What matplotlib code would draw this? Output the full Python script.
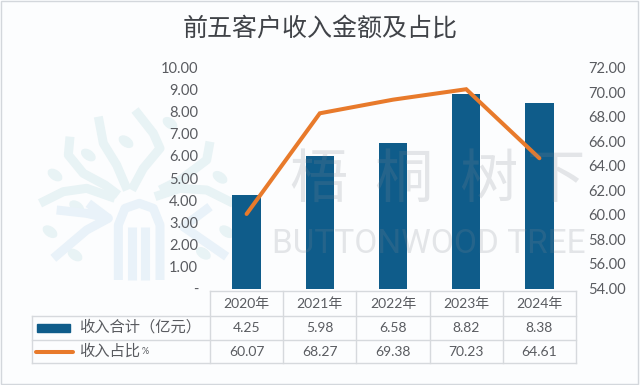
import numpy as np
import matplotlib
matplotlib.use("Agg")
import matplotlib.pyplot as plt
from matplotlib.patches import Rectangle, Ellipse

plt.rcParams['font.family'] = ['Lato', 'Noto Sans CJK SC', 'DejaVu Sans']

# --------------------------------------------------
# Data
# --------------------------------------------------
title = "前五客户收入金额及占比"
years = ["2020年", "2021年", "2022年", "2023年", "2024年"]
revenue = [4.25, 5.98, 6.58, 8.82, 8.38]
share = [60.07, 68.27, 69.38, 70.23, 64.61]
revenue_label = "收入合计（亿元）"
share_label = "收入占比"
share_unit = "%"
left_ticks = [0, 1, 2, 3, 4, 5, 6, 7, 8, 9, 10]
left_tick_labels = ["-", "1.00", "2.00", "3.00", "4.00", "5.00", "6.00", "7.00", "8.00", "9.00", "10.00"]
right_ticks = [54, 56, 58, 60, 62, 64, 66, 68, 70, 72]
right_tick_labels = ["54.00", "56.00", "58.00", "60.00", "62.00", "64.00", "66.00", "68.00", "70.00", "72.00"]
watermark_cn = ["梧", "桐", "树", "下"]
watermark_cn_x = [318, 403, 488, 556]
watermark_en = "BUTTONWOOD TREE"

BAR = "#0f5c8a"
LINE = "#e87a2b"
TEXT = "#595b60"
GRID = "#d6d9dd"
W, H = 640, 385

# tree logo strokes of the watermark, in pixels of a 3x crop starting at (20, 90)
tree_top = [
    [(150, 140), (145, 195), (190, 250), (255, 285), (295, 315)],
    [(235, 80), (250, 160), (290, 225), (322, 300)],
    [(345, 60), (400, 130), (420, 175), (370, 235), (335, 300)],
    [(570, 155), (560, 210), (480, 270), (420, 300)],
    [(60, 340), (130, 305), (200, 295), (285, 325)],
    [(405, 320), (480, 295), (560, 300), (640, 340)],
]
tree_low = [
    [(110, 360), (200, 370), (265, 385), (200, 420), (100, 505)],
    [(205, 340), (265, 385)],
    [(570, 350), (490, 410), (620, 500)],
    [(295, 570), (295, 405), (315, 355), (358, 340), (400, 355), (420, 405), (420, 570)],
    [(337, 410), (337, 570)],
    [(375, 410), (375, 570)],
]
tree_leaves = [(105, 255), (205, 195), (318, 155), (450, 100), (600, 262),
               (90, 425), (165, 495), (170, 350), (620, 425), (550, 490)]

# --------------------------------------------------
# Chart
# --------------------------------------------------
fig = plt.figure(figsize=(W / 100, H / 100), dpi=100, facecolor="#fcfdfe")

# tree goes behind everything
back = fig.add_axes([0, 0, 1, 1], zorder=-1)
back.set_xlim(0, W)
back.set_ylim(H, 0)
back.axis("off")


def crop(p):
    return p[0] / 3 + 20, p[1] / 3 + 90


for strokes, colour in ((tree_top, "#e8f3f5"), (tree_low, "#e9f2f9")):
    for stroke in strokes:
        xs, ys = zip(*[crop(p) for p in stroke])
        back.plot(xs, ys, color=colour, linewidth=6.5, solid_capstyle="butt")
for leaf in tree_leaves:
    cx, cy = crop(leaf)
    back.add_patch(Ellipse((cx, cy), 15, 9, angle=35, color="#e8f3f5"))

plot_l, plot_r, plot_t, plot_b = 210, 576, 67.5, 288.5
ax = fig.add_axes([plot_l / W, 1 - plot_b / H, (plot_r - plot_l) / W, (plot_b - plot_t) / H])
ax.patch.set_alpha(0)
x = np.arange(len(years))
ax.bar(x, revenue, width=0.39, color=BAR, zorder=2)
ax.set_xlim(-0.5, len(years) - 0.5)
ax.set_ylim(0, 10)
ax.set_xticks([])
ax.set_yticks(left_ticks)
ax.set_yticklabels(left_tick_labels)
ax.tick_params(axis="y", length=0, pad=8.5, labelsize=10.5, labelcolor=TEXT)

ax2 = ax.twinx()
ax2.patch.set_alpha(0)
ax2.plot(x, share, color=LINE, linewidth=2.9, solid_capstyle="round", solid_joinstyle="miter", zorder=3)
ax2.set_ylim(54, 72)
ax2.set_yticks(right_ticks)
ax2.set_yticklabels(right_tick_labels)
ax2.tick_params(axis="y", length=0, pad=9, labelsize=10.5, labelcolor=TEXT)

for a in (ax, ax2):
    for s in a.spines.values():
        s.set_visible(False)

# --------------------------------------------------
# Overlay in pixels: text watermark, data table, frame
# --------------------------------------------------
pix = fig.add_axes([0, 0, 1, 1], zorder=5)
pix.set_xlim(0, W)
pix.set_ylim(H, 0)
pix.axis("off")

for ch, cx in zip(watermark_cn, watermark_cn_x):
    pix.text(cx, 180, ch, fontsize=42, color="#808890", alpha=0.2, ha="center", va="center",
             family=['Noto Sans CJK SC', 'DejaVu Sans'])
pix.text(429, 244, watermark_en, fontsize=24, color="#808890", alpha=0.2, ha="center", va="center",
         family=['Roboto', 'DejaVu Sans'])

# table
col_w = (plot_r - plot_l) / len(years)
row_y = [291, 316, 340, 363]
left_edge = 32
for i, y in enumerate(row_y):
    pix.plot([plot_l if i == 0 else left_edge, plot_r], [y, y], color=GRID, linewidth=1, zorder=2)
for i in range(len(years) + 1):
    pix.plot([plot_l + i * col_w] * 2, [row_y[0], row_y[-1]], color=GRID, linewidth=1, zorder=2)
pix.plot([left_edge, left_edge], [row_y[1], row_y[-1]], color=GRID, linewidth=1, zorder=2)

rows = [years, [f"{v:.2f}" for v in revenue], [f"{v:.2f}" for v in share]]
for r, row in enumerate(rows):
    yc = (row_y[r] + row_y[r + 1]) / 2
    for i, label in enumerate(row):
        pix.text(plot_l + (i + 0.5) * col_w, yc, label, fontsize=10, color=TEXT, ha="center", va="center")

pix.add_patch(Rectangle((37, 323.5), 33, 8.5, color=BAR, zorder=3))
pix.plot([36, 73], [351.5, 351.5], color=LINE, linewidth=2.9, solid_capstyle="round", zorder=3)
pix.text(79, 327.5, revenue_label, fontsize=11, color=TEXT, ha="left", va="center")
pix.text(79, 351, share_label, fontsize=11, color=TEXT, ha="left", va="center")
pix.text(142, 352, share_unit, fontsize=6.5, color=TEXT, ha="left", va="center")

pix.text(320, 29, title, fontsize=18, color="#404348", ha="center", va="center",
         family=['Noto Sans CJK SC', 'DejaVu Sans'])

# thin grey frame of the screenshot
pix.add_patch(Rectangle((0.5, 0.5), W - 3, H - 1.5, fill=False, edgecolor="#d3d7dc", linewidth=1, zorder=6))

fig.savefig("out.png", dpi=100, facecolor=fig.get_facecolor())
